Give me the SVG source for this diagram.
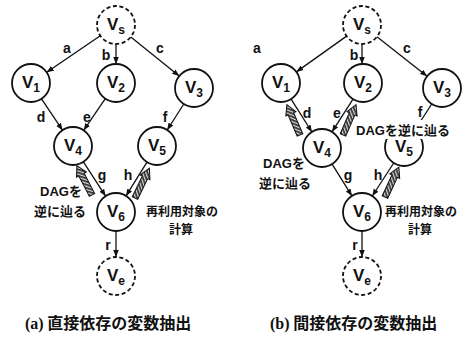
<svg xmlns="http://www.w3.org/2000/svg" width="465" height="337" viewBox="0 0 465 337">
  <style>
    .node circle { fill: #fff; stroke: #111; stroke-width: 1.8; }
    .node circle.dash { stroke-dasharray: 4 2.6; }
    .vl { font-family: "Liberation Sans", Arial, sans-serif; font-size: 17px; font-weight: bold; fill: #111; text-anchor: middle; }
    .sub { font-size: 12px; }
    .edge { stroke: #111; stroke-width: 1.3; fill: none; marker-end: url(#ah); }
    .plain { stroke: #111; stroke-width: 1.3; fill: none; }
    .el { font-family: "Liberation Sans", Arial, sans-serif; font-size: 14px; font-weight: bold; fill: #111; text-anchor: middle; }
    .jp { font-family: "Liberation Sans", "Noto Sans CJK JP", sans-serif; font-weight: bold; font-size: 13px; fill: #111; text-anchor: middle; }
    .jps { font-family: "Noto Sans CJK JP", sans-serif; font-weight: bold; font-size: 12px; fill: #111; text-anchor: middle; }
    .cap { font-family: "Noto Sans CJK JP", sans-serif; font-weight: bold; font-size: 16px; fill: #111; }
    .capl { font-family: "Liberation Serif", "Times New Roman", serif; font-weight: bold; }
    .back { stroke: #111; stroke-width: 1; fill: url(#hatch); }
  </style>
  <defs>
    <marker id="ah" viewBox="0 0 10 10" refX="10" refY="5" markerWidth="7" markerHeight="7" orient="auto" markerUnits="userSpaceOnUse">
      <path d="M0,1 L10,5 L0,9 Z" fill="#111"/>
    </marker>
    <pattern id="hatch" width="3" height="3" patternUnits="userSpaceOnUse" patternTransform="rotate(45)">
      <rect width="3" height="3" fill="#333"/>
      <rect width="1.2" height="3" fill="#ddd"/>
    </pattern>
    <!-- thick hatched arrow, pointing along +x from its base at the origin -->
    <path id="harrow" d="M0,-3 L23,-3 L23,-5.5 L33,0 L23,5.5 L23,3 L0,3 Z"/>
  </defs>

  <!-- ===== (a) direct dependency ===== -->
  <g id="edges-a">
    <line class="edge" x1="100.3" y1="35.7" x2="46.7" y2="72.3"/>
    <line class="edge" x1="116" y1="44" x2="116" y2="64"/>
    <line class="edge" x1="130.8" y1="37" x2="179.2" y2="76"/>
    <line class="edge" x1="41.5" y1="98.8" x2="62.5" y2="130.2"/>
    <line class="edge" x1="105.3" y1="98.7" x2="83.7" y2="130.3"/>
    <line class="edge" x1="183.8" y1="104" x2="167.2" y2="130"/>
    <line class="edge" x1="83.4" y1="161.9" x2="105.6" y2="196.1"/>
    <line class="edge" x1="147" y1="162.1" x2="126" y2="195.9"/>
    <line class="edge" x1="116" y1="231" x2="116" y2="257"/>
    <text class="el" x="67" y="53">a</text>
    <text class="el" x="106" y="60">b</text>
    <text class="el" x="160" y="53">c</text>
    <text class="el" x="41" y="122">d</text>
    <text class="el" x="87" y="122">e</text>
    <text class="el" x="165" y="122">f</text>
    <text class="el" x="102" y="180">g</text>
    <text class="el" x="128" y="180">h</text>
    <text class="el" x="108" y="250">r</text>
    <use href="#harrow" class="back" transform="translate(92,195) rotate(-117.3)"/>
    <use href="#harrow" class="back" transform="translate(135,198) rotate(-64.2)"/>
  </g>
  <g id="a-Vs" class="node"><circle class="dash" cx="116" cy="25" r="19"/><text class="vl" x="116" y="30">V<tspan class="sub" dy="4">s</tspan></text></g>
  <g id="a-V1" class="node"><circle cx="31" cy="83" r="19"/><text class="vl" x="31" y="88">V<tspan class="sub" dy="4">1</tspan></text></g>
  <g id="a-V2" class="node"><circle cx="116" cy="83" r="19"/><text class="vl" x="116" y="88">V<tspan class="sub" dy="4">2</tspan></text></g>
  <g id="a-V3" class="node"><circle cx="194" cy="88" r="19"/><text class="vl" x="194" y="93">V<tspan class="sub" dy="4">3</tspan></text></g>
  <g id="a-V4" class="node"><circle cx="73" cy="146" r="19"/><text class="vl" x="73" y="151">V<tspan class="sub" dy="4">4</tspan></text></g>
  <g id="a-V5" class="node"><circle cx="157" cy="146" r="19"/><text class="vl" x="157" y="151">V<tspan class="sub" dy="4">5</tspan></text></g>
  <g id="a-V6" class="node"><circle cx="116" cy="212" r="19"/><text class="vl" x="116" y="217">V<tspan class="sub" dy="4">6</tspan></text></g>
  <g id="a-Ve" class="node"><circle class="dash" cx="116" cy="276" r="19"/><text class="vl" x="116" y="281">V<tspan class="sub" dy="4">e</tspan></text></g>
  <g id="a-notes">
    <text class="jp" x="61" y="196">DAGを</text>
    <text class="jp" x="60" y="216">逆に辿る</text>
    <text class="jps" x="182" y="216">再利用対象の</text>
    <text class="jps" x="181" y="234">計算</text>
  </g>
  <text class="cap" x="25" y="329"><tspan class="capl">(a)</tspan> 直接依存の変数抽出</text>

  <!-- ===== (b) indirect dependency ===== -->
  <g id="edges-b">
    <line class="edge" x1="346.6" y1="36.1" x2="296.4" y2="71.9"/>
    <line class="edge" x1="362" y1="44" x2="362" y2="64"/>
    <line class="edge" x1="376.9" y1="36.8" x2="427.1" y2="76.2"/>
    <line class="edge" x1="291.1" y1="99.1" x2="311.9" y2="132"/>
    <line class="edge" x1="353" y1="99.2" x2="332" y2="131.8"/>
    <line class="plain" x1="431.7" y1="104" x2="414.3" y2="131"/>
    <line class="edge" x1="332.1" y1="164.1" x2="351.9" y2="195.9"/>
    <line class="edge" x1="393.7" y1="163" x2="372.3" y2="196"/>
    <line class="edge" x1="362" y1="231" x2="362" y2="257"/>
    <text class="el" x="257" y="53">a</text>
    <text class="el" x="354" y="60">b</text>
    <text class="el" x="407" y="53">c</text>
    <text class="el" x="307" y="118">d</text>
    <text class="el" x="337" y="118">e</text>
    <text class="el" x="420" y="117">f</text>
    <text class="el" x="348" y="180">g</text>
    <text class="el" x="378" y="180">h</text>
    <text class="el" x="355" y="250">r</text>
    <use href="#harrow" class="back" transform="translate(300,135) rotate(-113.4)"/>
    <use href="#harrow" class="back" transform="translate(343,135) rotate(-66.8)"/>
    <use href="#harrow" class="back" transform="translate(385,197) rotate(-65.1)"/>
  </g>
  <g id="b-Vs" class="node"><circle class="dash" cx="362" cy="25" r="19"/><text class="vl" x="362" y="30">V<tspan class="sub" dy="4">s</tspan></text></g>
  <g id="b-V1" class="node"><circle cx="281" cy="83" r="19"/><text class="vl" x="281" y="88">V<tspan class="sub" dy="4">1</tspan></text></g>
  <g id="b-V2" class="node"><circle cx="363" cy="83" r="19"/><text class="vl" x="363" y="88">V<tspan class="sub" dy="4">2</tspan></text></g>
  <g id="b-V3" class="node"><circle cx="442" cy="88" r="19"/><text class="vl" x="442" y="93">V<tspan class="sub" dy="4">3</tspan></text></g>
  <g id="b-V4" class="node"><circle cx="322" cy="148" r="19"/><text class="vl" x="322" y="153">V<tspan class="sub" dy="4">4</tspan></text></g>
  <g id="b-V5" class="node"><circle cx="404" cy="147" r="19"/><text class="vl" x="404" y="152">V<tspan class="sub" dy="4">5</tspan></text></g>
  <g id="b-V6" class="node"><circle cx="362" cy="212" r="19"/><text class="vl" x="362" y="217">V<tspan class="sub" dy="4">6</tspan></text></g>
  <g id="b-Ve" class="node"><circle class="dash" cx="362" cy="276" r="19"/><text class="vl" x="362" y="281">V<tspan class="sub" dy="4">e</tspan></text></g>
  <g id="b-notes">
    <rect x="353" y="120" width="101" height="19" fill="#fff"/>
    <text class="jp" x="403" y="135">DAGを逆に辿る</text>
    <text class="jp" x="284" y="168">DAGを</text>
    <text class="jp" x="285" y="188">逆に辿る</text>
    <text class="jps" x="421" y="216">再利用対象の</text>
    <text class="jps" x="420" y="234">計算</text>
  </g>
  <text class="cap" x="270" y="329"><tspan class="capl">(b)</tspan> 間接依存の変数抽出</text>
</svg>
